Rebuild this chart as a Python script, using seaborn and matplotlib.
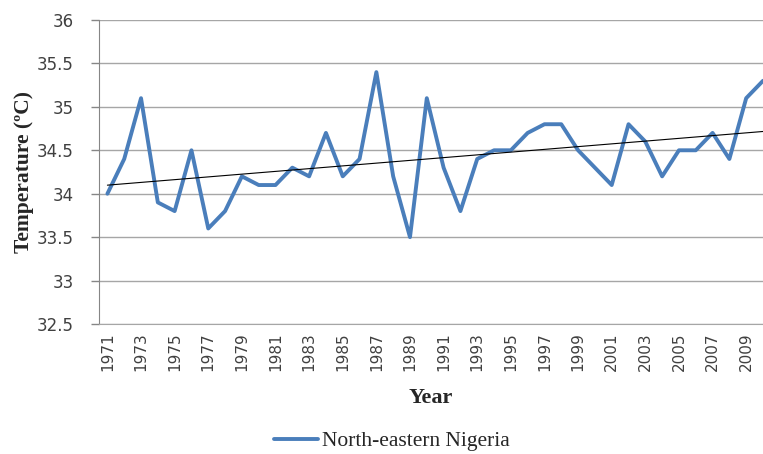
import numpy as np
import pandas as pd
import seaborn as sns
import matplotlib.pyplot as plt

# Annual mean temperature, North-eastern Nigeria
years = list(range(1971, 2011))
temps = [34.0, 34.4, 35.1, 33.9, 33.8, 34.5, 33.6, 33.8, 34.2, 34.1,
         34.1, 34.3, 34.2, 34.7, 34.2, 34.4, 35.4, 34.2, 33.5, 35.1,
         34.3, 33.8, 34.4, 34.5, 34.5, 34.7, 34.8, 34.8, 34.5, 34.3,
         34.1, 34.8, 34.6, 34.2, 34.5, 34.5, 34.7, 34.4, 35.1, 35.3]
y_ticks = [32.5, 33, 33.5, 34, 34.5, 35, 35.5, 36]
y_tick_labels = ['32.5', '33', '33.5', '34', '34.5', '35', '35.5', '36']

df = pd.DataFrame({'Year': years, 'Temperature': temps})

sns.set_style('white')
plt.rcParams['font.family'] = ['DejaVu Sans']

fig = plt.figure(figsize=(7.63, 4.54), dpi=100)
ax = fig.add_axes([99 / 763, 1 - 324 / 454, 1 - 99 / 763, (324 - 20) / 454])

sns.lineplot(data=df, x='Year', y='Temperature', ax=ax, color='#4a7ebb',
             linewidth=2.8, label='North-eastern Nigeria')
# linear trend line
sns.regplot(data=df, x='Year', y='Temperature', ax=ax, scatter=False,
            ci=None, color='black', line_kws={'linewidth': 0.8})

ax.set_ylim(32.5, 36)
ax.set_xlim(1970.5, 2010)
ax.set_yticks(y_ticks)
ax.set_yticklabels(y_tick_labels)
ax.set_xticks(years[::2])
ax.set_xticklabels([str(y) for y in years[::2]], rotation=90)
ax.tick_params(axis='y', labelsize=12, labelcolor='#404040', length=6,
               color='#868686', width=1, direction='out', left=True, pad=12)
ax.tick_params(axis='x', labelsize=11, labelcolor='#404040', length=0, pad=6)

ax.yaxis.grid(True, color='#a6a6a6', linewidth=1)
ax.set_axisbelow(True)
for side in ['top', 'right']:
    ax.spines[side].set_visible(False)
ax.spines['left'].set_color('#868686')
ax.spines['bottom'].set_color('#a6a6a6')

ax.set_ylabel('Temperature (ºC)', family='Liberation Serif', fontweight='bold',
              fontsize=15.5, labelpad=2)
ax.set_xlabel('Year', family='Liberation Serif', fontweight='bold',
              fontsize=16, labelpad=12)

ax.get_legend().remove()
handles, labels = ax.get_legend_handles_labels()
fig.legend(handles[:1], labels[:1], loc='center',
           bbox_to_anchor=(392 / 763, 1 - 441 / 454), frameon=False,
           prop={'family': 'Liberation Serif', 'size': 15.5},
           handlelength=2.0, handletextpad=0.2, borderpad=0.2)

fig.savefig('out.png', dpi=100)
